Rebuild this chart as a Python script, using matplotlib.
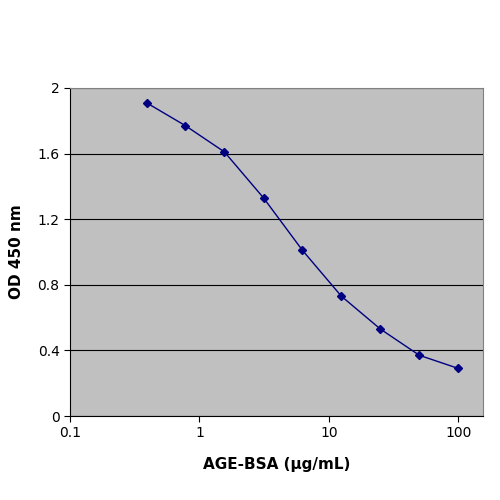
import matplotlib
matplotlib.use("Agg")
import matplotlib.pyplot as plt
from matplotlib.ticker import FixedLocator, FixedFormatter, NullLocator

conc = [0.39, 0.78, 1.56, 3.125, 6.25, 12.5, 25, 50, 100]
od = [1.91, 1.77, 1.61, 1.33, 1.01, 0.73, 0.53, 0.37, 0.29]
xticks = [0.1, 1, 10, 100]
xticklabels = ["0.1", "1", "10", "100"]
yticks = [0, 0.4, 0.8, 1.2, 1.6, 2]
yticklabels = ["0", "0.4", "0.8", "1.2", "1.6", "2"]

fig = plt.figure(figsize=(5, 5), dpi=100)
ax = fig.add_axes([0.14, 0.168, 0.826, 0.656])
ax.set_facecolor("#c0c0c0")
ax.set_xscale("log")
ax.set_xlim(0.1, 155)
ax.set_ylim(0, 2)
ax.yaxis.set_major_locator(FixedLocator(yticks))
ax.yaxis.set_major_formatter(FixedFormatter(yticklabels))
ax.xaxis.set_major_locator(FixedLocator(xticks))
ax.xaxis.set_major_formatter(FixedFormatter(xticklabels))
ax.xaxis.set_minor_locator(NullLocator())
ax.grid(axis="y", color="black", linewidth=0.8)
ax.set_axisbelow(True)
ax.plot(conc, od, color="#000080", marker="D", markersize=4, linewidth=1)
for s in ["top", "right"]:
    ax.spines[s].set_color("#808080")
ax.tick_params(labelsize=10, direction="out", length=4)
ax.set_xlabel("AGE-BSA (\u00b5g/mL)", fontsize=11, fontweight="bold", labelpad=12)
ax.set_ylabel("OD 450 nm", fontsize=11, fontweight="bold", labelpad=10)
fig.savefig("out.png", dpi=100)
